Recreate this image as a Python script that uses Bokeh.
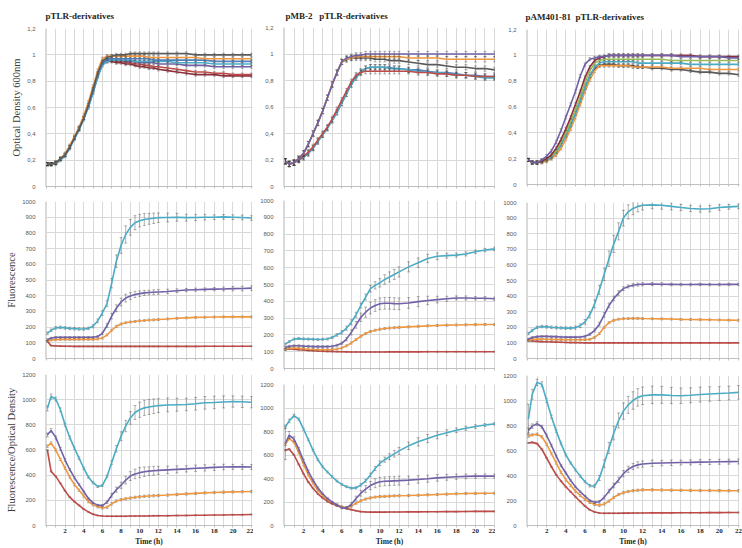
from bokeh.embed import file_html
from bokeh.layouts import column, row
from bokeh.models import FixedTicker, Range1d, Title
from bokeh.plotting import figure
from bokeh.resources import INLINE

# ---------------------------------------------------------------------------
# Sampling times (h)
# ---------------------------------------------------------------------------
T = [0.1, 0.5, 1.0, 1.5, 2.0, 2.5, 3.0, 3.5, 4.0, 4.5, 5.0, 5.5,
     6.0, 6.5, 7.0, 7.5, 8.0, 8.5, 9.0, 9.5, 10.0, 10.5, 11.0, 11.5, 12.0,
     13, 14, 15, 16, 17, 18, 19, 20, 21, 22]

HOUR_TICKS = list(range(0, 23))
HOUR_LABELS = ["", "", "2", "", "4", "", "6", "", "8", "", "10", "", "12", "",
               "14", "", "16", "", "18", "", "20", "", "22"]

OD_TICKS = [0, 0.2, 0.4, 0.6, 0.8, 1.0, 1.2]
OD_TICK_LABELS = ["0", "0,2", "0,4", "0,6", "0,8", "1", "1,2"]
F_TICKS = [0, 100, 200, 300, 400, 500, 600, 700, 800, 900, 1000]
F_TICK_LABELS = ["0", "100", "200", "300", "400", "500", "600", "700", "800", "900", "1000"]
R_TICKS = [0, 200, 400, 600, 800, 1000, 1200]
R_TICK_LABELS = ["0", "200", "400", "600", "800", "1000", "1200"]

# non-breaking spaces keep the wide gaps between the plasmid names
PANEL_TITLES = ["pTLR-derivatives",
                "pMB-2\u00a0\u00a0\u00a0pTLR-derivatives",
                "pAM401-81\u00a0\u00a0pTLR-derivatives"]
ROW_TITLES = ["Optical Density 600nm", "Fluorescence", "Fluorescence/Optical Density"]

# ---------------------------------------------------------------------------
# Optical density 600 nm
# ---------------------------------------------------------------------------
OD_A_GRAY = [0.17, 0.17, 0.18, 0.21, 0.24, 0.30, 0.37, 0.44, 0.52, 0.62, 0.74, 0.86,
             0.95, 0.98, 0.99, 1.00, 1.00, 1.00, 1.01, 1.01, 1.01, 1.01, 1.01, 1.01, 1.01,
             1.01, 1.01, 1.01, 1.00, 1.00, 1.00, 1.00, 1.00, 1.00, 1.00]
OD_A_ORANGE = [0.17, 0.17, 0.18, 0.21, 0.25, 0.31, 0.38, 0.45, 0.54, 0.64, 0.76, 0.88,
               0.97, 0.99, 0.99, 0.99, 0.99, 0.99, 0.99, 0.99, 0.99, 0.99, 0.98, 0.98, 0.98,
               0.98, 0.98, 0.98, 0.98, 0.97, 0.97, 0.97, 0.97, 0.97, 0.97]
OD_A_BLUE = [0.17, 0.17, 0.18, 0.21, 0.24, 0.30, 0.37, 0.44, 0.52, 0.62, 0.73, 0.85,
             0.94, 0.97, 0.97, 0.97, 0.97, 0.97, 0.97, 0.97, 0.97, 0.97, 0.97, 0.96, 0.96,
             0.96, 0.96, 0.96, 0.96, 0.96, 0.95, 0.95, 0.95, 0.95, 0.95]
OD_A_TEAL = [0.17, 0.17, 0.17, 0.20, 0.23, 0.29, 0.36, 0.43, 0.51, 0.60, 0.71, 0.83,
             0.92, 0.95, 0.96, 0.96, 0.96, 0.96, 0.96, 0.95, 0.95, 0.95, 0.95, 0.95, 0.95,
             0.95, 0.94, 0.94, 0.94, 0.94, 0.93, 0.93, 0.93, 0.93, 0.93]
OD_A_PURPLE = [0.17, 0.17, 0.18, 0.21, 0.24, 0.30, 0.37, 0.44, 0.52, 0.61, 0.72, 0.84,
               0.93, 0.96, 0.96, 0.96, 0.96, 0.95, 0.95, 0.95, 0.94, 0.94, 0.94, 0.94, 0.93,
               0.93, 0.93, 0.92, 0.92, 0.92, 0.91, 0.91, 0.91, 0.91, 0.91]
OD_A_RED = [0.17, 0.17, 0.18, 0.21, 0.24, 0.30, 0.37, 0.44, 0.52, 0.62, 0.73, 0.85,
            0.94, 0.96, 0.96, 0.95, 0.95, 0.94, 0.94, 0.93, 0.93, 0.92, 0.92, 0.91, 0.91,
            0.90, 0.89, 0.88, 0.87, 0.87, 0.86, 0.86, 0.85, 0.85, 0.85]
OD_A_DKRED = [0.17, 0.17, 0.18, 0.21, 0.24, 0.30, 0.37, 0.44, 0.52, 0.61, 0.72, 0.84,
              0.93, 0.95, 0.95, 0.94, 0.94, 0.93, 0.93, 0.92, 0.91, 0.91, 0.90, 0.90, 0.89,
              0.88, 0.87, 0.86, 0.85, 0.85, 0.85, 0.84, 0.84, 0.84, 0.84]

OD_B_PURPLE = [0.19, 0.17, 0.18, 0.21, 0.25, 0.32, 0.40, 0.48, 0.57, 0.67, 0.77, 0.86,
               0.94, 0.97, 0.98, 0.99, 0.99, 1.00, 1.00, 1.00, 1.00, 1.00, 1.00, 1.00, 1.00,
               1.00, 1.00, 1.00, 1.00, 1.00, 1.00, 1.00, 1.00, 1.00, 1.00]
OD_B_ORANGE = [0.19, 0.17, 0.18, 0.21, 0.25, 0.32, 0.40, 0.48, 0.57, 0.67, 0.77, 0.86,
               0.94, 0.96, 0.97, 0.98, 0.98, 0.98, 0.98, 0.98, 0.98, 0.98, 0.98, 0.98, 0.98,
               0.97, 0.97, 0.97, 0.97, 0.96, 0.96, 0.96, 0.96, 0.96, 0.96]
OD_B_GRAY = [0.19, 0.17, 0.18, 0.21, 0.25, 0.32, 0.40, 0.48, 0.57, 0.67, 0.77, 0.86,
             0.94, 0.96, 0.97, 0.97, 0.97, 0.97, 0.97, 0.96, 0.96, 0.96, 0.95, 0.95, 0.95,
             0.94, 0.93, 0.92, 0.92, 0.91, 0.90, 0.90, 0.89, 0.89, 0.88]
OD_B_RED = [0.19, 0.17, 0.18, 0.20, 0.23, 0.26, 0.30, 0.35, 0.40, 0.45, 0.51, 0.58,
            0.65, 0.72, 0.79, 0.84, 0.86, 0.87, 0.87, 0.87, 0.87, 0.87, 0.87, 0.87, 0.87,
            0.87, 0.86, 0.86, 0.85, 0.85, 0.84, 0.84, 0.83, 0.83, 0.83]
OD_B_TEAL = [0.19, 0.17, 0.18, 0.20, 0.22, 0.25, 0.29, 0.34, 0.39, 0.44, 0.50, 0.56,
             0.63, 0.70, 0.77, 0.82, 0.86, 0.89, 0.90, 0.90, 0.90, 0.90, 0.89, 0.89, 0.89,
             0.88, 0.87, 0.86, 0.86, 0.85, 0.84, 0.84, 0.83, 0.82, 0.82]
OD_B_BLUE = [0.19, 0.17, 0.18, 0.20, 0.22, 0.25, 0.29, 0.34, 0.39, 0.44, 0.50, 0.56,
             0.63, 0.70, 0.77, 0.83, 0.87, 0.89, 0.90, 0.90, 0.90, 0.90, 0.90, 0.89, 0.89,
             0.88, 0.88, 0.87, 0.86, 0.86, 0.85, 0.84, 0.84, 0.83, 0.83]

OD_C_PURPLE = [0.19, 0.17, 0.17, 0.19, 0.22, 0.26, 0.33, 0.42, 0.52, 0.62, 0.72, 0.84,
               0.93, 0.97, 0.98, 0.99, 0.99, 1.00, 1.00, 1.00, 1.00, 1.00, 1.00, 1.00, 1.00,
               1.00, 1.00, 1.00, 0.99, 0.99, 0.99, 0.99, 0.99, 0.98, 0.98]
OD_C_RED = [0.19, 0.17, 0.17, 0.18, 0.20, 0.23, 0.28, 0.35, 0.43, 0.52, 0.62, 0.72,
            0.83, 0.91, 0.96, 0.98, 0.99, 1.00, 1.00, 1.00, 1.00, 1.00, 1.00, 1.00, 1.00,
            1.00, 1.00, 1.00, 1.00, 1.00, 0.99, 0.99, 0.99, 0.99, 0.99]
OD_C_GREEN = [0.19, 0.17, 0.17, 0.18, 0.20, 0.22, 0.26, 0.33, 0.40, 0.49, 0.58, 0.68,
              0.79, 0.88, 0.94, 0.96, 0.97, 0.97, 0.97, 0.97, 0.97, 0.97, 0.97, 0.97, 0.97,
              0.97, 0.97, 0.96, 0.96, 0.96, 0.96, 0.96, 0.96, 0.96, 0.96]
OD_C_TEAL = [0.19, 0.17, 0.17, 0.18, 0.19, 0.21, 0.25, 0.31, 0.38, 0.46, 0.55, 0.65,
             0.75, 0.84, 0.91, 0.94, 0.95, 0.95, 0.95, 0.95, 0.95, 0.95, 0.95, 0.94, 0.94,
             0.94, 0.94, 0.94, 0.94, 0.93, 0.93, 0.93, 0.93, 0.93, 0.93]
OD_C_ORANGE = [0.19, 0.17, 0.17, 0.17, 0.18, 0.20, 0.23, 0.28, 0.35, 0.43, 0.52, 0.62,
               0.72, 0.81, 0.88, 0.92, 0.92, 0.92, 0.92, 0.92, 0.92, 0.92, 0.91, 0.91, 0.91,
               0.91, 0.91, 0.90, 0.90, 0.90, 0.90, 0.89, 0.89, 0.89, 0.89]
OD_C_GRAY = [0.19, 0.17, 0.17, 0.18, 0.19, 0.21, 0.25, 0.31, 0.38, 0.46, 0.55, 0.65,
             0.75, 0.84, 0.90, 0.92, 0.93, 0.93, 0.93, 0.92, 0.92, 0.92, 0.92, 0.91, 0.91,
             0.90, 0.90, 0.89, 0.89, 0.88, 0.87, 0.87, 0.86, 0.86, 0.85]

OD_SD = [0.012, 0.02, 0.012]   # per construct group (columns)

# ---------------------------------------------------------------------------
# Fluorescence
# ---------------------------------------------------------------------------
F_A_TEAL = [160, 180, 195, 198, 195, 192, 190, 188, 188, 192, 205, 240,
            290, 350, 480, 620, 720, 790, 835, 865, 878, 885, 890, 893, 897,
            898, 900, 897, 898, 900, 900, 902, 900, 898, 895]
F_A_PURPLE = [120, 130, 135, 135, 135, 135, 135, 135, 135, 135, 135, 140,
              160, 210, 270, 320, 360, 385, 398, 408, 413, 418, 420, 422, 424,
              427, 432, 436, 438, 440, 442, 443, 445, 446, 448]
F_A_ORANGE = [110, 118, 120, 122, 122, 122, 122, 122, 122, 122, 122, 124,
              130, 150, 180, 205, 220, 228, 233, 236, 240, 242, 245, 246, 248,
              252, 256, 259, 262, 263, 264, 265, 265, 265, 265]
F_A_RED = [110, 82, 80, 79, 78, 78, 77, 77, 77, 77, 77, 77,
           77, 77, 77, 77, 77, 77, 77, 77, 77, 77, 77, 77, 77,
           77, 77, 77, 77, 78, 78, 78, 78, 78, 78]
F_A_TEAL_SD = [8, 8, 8, 8, 8, 8, 8, 8, 8, 8, 10, 12,
               15, 20, 30, 40, 50, 55, 50, 45, 40, 38, 35, 33, 30,
               28, 25, 22, 20, 18, 15, 15, 15, 15, 15]
F_A_PURPLE_SD = [5, 5, 5, 5, 5, 5, 5, 5, 5, 5, 5, 6,
                 8, 12, 18, 22, 25, 25, 22, 20, 18, 16, 15, 15, 15,
                 14, 12, 10, 10, 10, 10, 12, 14, 15, 15]

F_B_TEAL = [145, 160, 175, 178, 176, 175, 174, 173, 174, 176, 185, 200,
            215, 240, 275, 320, 375, 425, 475, 495, 510, 530, 545, 560, 575,
            605, 630, 655, 668, 672, 675, 682, 695, 705, 712]
F_B_PURPLE = [125, 132, 135, 135, 133, 132, 130, 130, 130, 130, 132, 138,
              150, 175, 215, 260, 305, 335, 360, 375, 385, 388, 388, 386, 385,
              390, 398, 405, 410, 415, 420, 420, 418, 418, 415]
F_B_ORANGE = [115, 120, 122, 120, 118, 115, 113, 112, 112, 112, 113, 116,
              122, 135, 152, 172, 192, 208, 220, 228, 234, 238, 241, 243, 245,
              248, 251, 254, 256, 258, 259, 260, 261, 262, 262]
F_B_RED = [112, 118, 115, 112, 110, 108, 106, 104, 103, 102, 101, 100,
           100, 99, 98, 98, 98, 98, 98, 98, 98, 98, 99, 99, 99,
           99, 99, 100, 100, 100, 100, 100, 100, 100, 100]
F_B_TEAL_SD = [6, 6, 6, 6, 6, 6, 6, 6, 6, 6, 6, 8,
               10, 12, 15, 15, 15, 18, 20, 22, 25, 28, 30, 30, 30,
               30, 28, 25, 20, 15, 12, 12, 10, 10, 10]
F_B_PURPLE_SD = [6, 6, 6, 6, 6, 6, 6, 6, 6, 6, 6, 6,
                 8, 10, 15, 20, 25, 30, 35, 35, 35, 35, 35, 35, 35,
                 32, 30, 25, 20, 15, 12, 12, 10, 10, 10]

F_C_TEAL = [160, 180, 200, 205, 203, 200, 198, 196, 195, 195, 198, 210,
            235, 280, 350, 440, 540, 640, 735, 815, 900, 940, 962, 975, 982,
            985, 982, 975, 968, 962, 958, 960, 968, 972, 975]
F_C_PURPLE = [125, 135, 140, 142, 142, 140, 140, 138, 137, 137, 137, 138,
              142, 155, 180, 220, 280, 340, 385, 420, 448, 462, 470, 474, 476,
              477, 476, 475, 474, 474, 475, 474, 474, 475, 475]
F_C_ORANGE = [115, 122, 125, 124, 123, 122, 122, 121, 120, 120, 120, 120,
              121, 123, 135, 160, 200, 230, 245, 252, 255, 256, 257, 257, 256,
              255, 254, 253, 251, 250, 249, 248, 247, 246, 245]
F_C_RED = [115, 112, 110, 108, 107, 106, 105, 104, 103, 102, 102, 101,
           100, 100, 100, 100, 100, 100, 100, 100, 100, 100, 100, 100, 100,
           100, 100, 100, 100, 100, 100, 100, 100, 100, 100]
F_C_TEAL_SD = [8, 8, 8, 8, 8, 8, 8, 8, 8, 8, 10, 12,
               15, 20, 25, 30, 40, 50, 55, 55, 50, 45, 40, 35, 30,
               25, 25, 22, 20, 20, 20, 20, 18, 15, 15]
F_C_PURPLE_SD = [5, 5, 5, 5, 5, 5, 5, 5, 5, 5, 5, 5,
                 6, 8, 10, 12, 15, 15, 15, 15, 12, 10, 10, 10, 10,
                 10, 10, 8, 8, 8, 8, 8, 8, 8, 8]

F_ORANGE_SD = 6
F_RED_SD = 3

# ---------------------------------------------------------------------------
# Fluorescence / optical density
# ---------------------------------------------------------------------------
R_A_TEAL = [930, 1025, 1005, 920, 800, 700, 615, 535, 455, 385, 340, 310,
            318, 390, 500, 610, 710, 790, 855, 898, 920, 935, 942, 948, 953,
            958, 960, 962, 968, 975, 978, 982, 985, 983, 980]
R_A_PURPLE = [720, 755, 700, 610, 520, 445, 380, 325, 270, 215, 180, 162,
              158, 185, 240, 285, 320, 360, 393, 410, 420, 427, 432, 435, 438,
              442, 446, 450, 455, 458, 462, 465, 466, 466, 465]
R_A_ORANGE = [630, 655, 600, 525, 455, 385, 325, 280, 235, 190, 165, 148,
              140, 145, 172, 195, 205, 212, 218, 224, 228, 232, 234, 236, 238,
              242, 247, 251, 255, 259, 262, 265, 267, 268, 270]
R_A_RED = [600, 430, 390, 335, 275, 225, 190, 160, 130, 108, 90, 80,
           76, 74, 74, 74, 74, 74, 75, 75, 75, 76, 76, 77, 77,
           78, 79, 80, 81, 82, 83, 84, 85, 86, 88]
R_A_TEAL_SD = [20, 20, 15, 15, 12, 12, 10, 10, 10, 8, 8, 8,
               8, 10, 15, 25, 35, 45, 50, 55, 60, 60, 60, 58, 55,
               55, 52, 50, 50, 50, 50, 48, 45, 45, 45]
R_A_PURPLE_SD = [15, 15, 12, 10, 10, 8, 8, 8, 6, 6, 6, 6,
                 8, 10, 15, 20, 25, 30, 35, 38, 40, 38, 35, 35, 32,
                 30, 28, 25, 25, 25, 25, 22, 20, 20, 20]

R_B_TEAL = [840, 890, 935, 905, 820, 730, 640, 560, 500, 455, 415, 378,
            350, 330, 318, 320, 345, 380, 430, 485, 530, 560, 585, 610, 635,
            678, 712, 740, 768, 790, 810, 828, 842, 855, 865]
R_B_PURPLE = [700, 770, 735, 650, 550, 460, 385, 320, 270, 230, 198, 175,
              150, 150, 180, 230, 275, 310, 340, 360, 372, 376, 378, 380, 382,
              386, 392, 398, 405, 410, 415, 418, 420, 421, 420]
R_B_ORANGE = [690, 740, 710, 620, 520, 430, 360, 300, 255, 220, 195, 175,
              160, 152, 165, 190, 210, 225, 235, 242, 246, 248, 250, 252, 253,
              255, 258, 261, 264, 267, 270, 272, 273, 274, 275]
R_B_RED = [640, 650, 600, 520, 440, 370, 315, 270, 235, 205, 185, 168,
           155, 145, 135, 125, 118, 115, 114, 114, 114, 114, 115, 115, 115,
           116, 116, 117, 117, 118, 118, 119, 120, 120, 120]
R_B_TEAL_SD = [15, 15, 12, 10, 10, 8, 8, 8, 8, 8, 8, 8,
               8, 8, 8, 10, 10, 12, 15, 18, 20, 22, 25, 28, 30,
               32, 35, 35, 30, 25, 20, 18, 15, 12, 10]
R_B_PURPLE_SD = [140, 30, 20, 15, 12, 10, 8, 8, 6, 6, 6, 6,
                 8, 10, 15, 20, 25, 30, 35, 38, 38, 38, 38, 38, 38,
                 35, 32, 30, 28, 25, 22, 20, 18, 18, 18]

R_C_TEAL = [850, 1050, 1145, 1130, 1000, 870, 755, 655, 565, 500, 445, 395,
            350, 318, 315, 380, 495, 620, 740, 840, 915, 965, 1000, 1025, 1038,
            1045, 1045, 1040, 1038, 1042, 1048, 1052, 1056, 1060, 1065]
R_C_PURPLE = [760, 795, 815, 790, 720, 640, 555, 480, 420, 360, 310, 270,
              235, 200, 185, 190, 225, 275, 320, 365, 415, 450, 472, 485, 492,
              498, 500, 502, 504, 505, 507, 508, 510, 511, 512]
R_C_ORANGE = [715, 725, 730, 710, 650, 575, 500, 425, 365, 320, 275, 240,
              208, 185, 168, 162, 172, 195, 225, 248, 262, 272, 278, 282, 285,
              285, 284, 283, 282, 281, 280, 280, 279, 278, 278]
R_C_RED = [660, 665, 655, 610, 540, 470, 405, 355, 310, 270, 230, 192,
           155, 125, 108, 100, 98, 98, 98, 98, 99, 99, 100, 100, 100,
           101, 101, 101, 102, 102, 102, 103, 103, 104, 104]
R_C_TEAL_SD = [120, 40, 25, 20, 15, 12, 10, 10, 8, 8, 8, 8,
               8, 10, 12, 20, 30, 45, 55, 60, 65, 68, 70, 70, 70,
               70, 68, 65, 62, 60, 60, 58, 55, 55, 55]
R_C_PURPLE_SD = [20, 18, 15, 12, 10, 10, 8, 8, 8, 6, 6, 6,
                 6, 6, 8, 10, 12, 15, 18, 22, 25, 25, 25, 25, 25,
                 25, 22, 22, 20, 20, 20, 20, 20, 20, 20]

R_ORANGE_SD = 9
R_RED_SD = 4

COLORS = {
    "teal": "#4BACC6", "purple": "#7261A8", "orange": "#F0983F", "red": "#BE4B48",
    "gray": "#5A5A5A", "blue": "#4F81BD", "dkred": "#8E2F3C", "green": "#9BBB59",
}
GRID = "#d9d9d9"
BAR = "#3a3a3a"

# figure geometry per column: (width, left, right) and per row: (height, top, bottom)
COL_W = [(253, 40, 1), (242, 30, 0), (247, 31, 3)]
ROW_H = [
    [(190, 28, 4), (172, 11, 4), (186, 12, 19)],
    [(190, 27, 4), (182, 10, 4), (176, 12, 19)],
    [(190, 29, 6), (172, 12, 4), (186, 13, 19)],
]
TITLE_OFFSET = [0, 2, -1]
TITLE_STANDOFF = [15, 14, 16]
ROW_TITLE_OFFSET = [-26, -17, -6]


def make_panel(ci, ri, ticks, tick_labels, y_max):
    w, left, right = COL_W[ci]
    h, top, bottom = ROW_H[ci][ri]
    p = figure(width=w, height=h, x_range=Range1d(-0.1, 22.1), y_range=Range1d(0, y_max),
               output_backend="svg", toolbar_location=None,
               min_border_left=left, min_border_right=right,
               min_border_top=top, min_border_bottom=bottom)
    p.outline_line_color = None
    p.background_fill_color = "white"
    p.border_fill_color = "white"

    xa = p.xaxis[0]
    xa.ticker = FixedTicker(ticks=HOUR_TICKS)
    xa.axis_line_color = "#bfbfbf"
    xa.major_tick_line_color = "#bfbfbf"
    xa.major_tick_in = 0
    xa.major_tick_out = 2
    xa.minor_tick_line_color = None
    if ri == 2:
        xa.major_label_overrides = {t: s for t, s in zip(HOUR_TICKS, HOUR_LABELS)}
        xa.major_label_text_font = "Liberation Serif"
        xa.major_label_text_font_style = "bold"
        xa.major_label_text_font_size = "7px"
        xa.major_label_text_color = "#262626"
        xa.major_label_standoff = 1
        xa.axis_label = "Time (h)"
        xa.axis_label_text_font = "Liberation Serif"
        xa.axis_label_text_font_style = "bold"
        xa.axis_label_text_font_size = "7.5px"
        xa.axis_label_text_color = "#262626"
        xa.axis_label_standoff = 1
    else:
        xa.major_label_overrides = {t: "" for t in HOUR_TICKS}
        xa.major_label_text_font_size = "0px"
        xa.major_label_standoff = 0

    ya = p.yaxis[0]
    ya.ticker = FixedTicker(ticks=ticks)
    ya.major_label_overrides = {t: s for t, s in zip(ticks, tick_labels)}
    ya.major_label_text_font = "Liberation Sans"
    ya.major_label_text_font_size = "6px"
    ya.major_label_text_color = "#595959"
    ya.major_label_standoff = 4
    ya.axis_line_color = GRID
    ya.major_tick_line_color = None
    ya.minor_tick_line_color = None

    p.xgrid.grid_line_color = GRID
    p.ygrid.grid_line_color = GRID
    p.xgrid.ticker = FixedTicker(ticks=HOUR_TICKS)
    p.ygrid.ticker = FixedTicker(ticks=ticks)

    if ri == 0:
        p.title.text = PANEL_TITLES[ci]
        p.title.align = "left"
        p.title.offset = TITLE_OFFSET[ci]
        p.title.standoff = TITLE_STANDOFF[ci]
        p.title.text_font = "Liberation Serif"
        p.title.text_font_style = "bold"
        p.title.text_font_size = "9px"
        p.title.text_color = "#262626"
    if ci == 0:
        p.add_layout(Title(text=ROW_TITLES[ri], align="center", offset=ROW_TITLE_OFFSET[ri],
                           standoff=6, text_font="Liberation Serif", text_font_style="normal",
                           text_font_size="10.5px", text_color="#3a3a3a"), "left")
    return p


def add_series(p, values, sd, color, cap):
    sds = sd if isinstance(sd, list) else [sd] * len(values)
    lo = [v - s for v, s in zip(values, sds)]
    hi = [v + s for v, s in zip(values, sds)]
    xl = [t - cap for t in T]
    xr = [t + cap for t in T]
    kw = dict(line_color=BAR, line_width=0.6, line_alpha=0.65)
    p.segment(x0=T, y0=lo, x1=T, y1=hi, **kw)
    p.segment(x0=xl, y0=hi, x1=xr, y1=hi, **kw)
    p.segment(x0=xl, y0=lo, x1=xr, y1=lo, **kw)
    p.line(T, values, line_color=COLORS[color], line_width=1.6)


OD_SERIES = [
    [(OD_A_DKRED, "dkred"), (OD_A_RED, "red"), (OD_A_PURPLE, "purple"), (OD_A_TEAL, "teal"),
     (OD_A_BLUE, "blue"), (OD_A_ORANGE, "orange"), (OD_A_GRAY, "gray")],
    [(OD_B_BLUE, "blue"), (OD_B_TEAL, "teal"), (OD_B_RED, "red"), (OD_B_GRAY, "gray"),
     (OD_B_ORANGE, "orange"), (OD_B_PURPLE, "purple")],
    [(OD_C_GRAY, "gray"), (OD_C_ORANGE, "orange"), (OD_C_TEAL, "teal"), (OD_C_GREEN, "green"),
     (OD_C_RED, "dkred"), (OD_C_PURPLE, "purple")],
]
F_SERIES = [
    [(F_A_RED, F_RED_SD, "red"), (F_A_ORANGE, F_ORANGE_SD, "orange"),
     (F_A_PURPLE, F_A_PURPLE_SD, "purple"), (F_A_TEAL, F_A_TEAL_SD, "teal")],
    [(F_B_RED, F_RED_SD, "red"), (F_B_ORANGE, F_ORANGE_SD, "orange"),
     (F_B_PURPLE, F_B_PURPLE_SD, "purple"), (F_B_TEAL, F_B_TEAL_SD, "teal")],
    [(F_C_RED, F_RED_SD, "red"), (F_C_ORANGE, F_ORANGE_SD, "orange"),
     (F_C_PURPLE, F_C_PURPLE_SD, "purple"), (F_C_TEAL, F_C_TEAL_SD, "teal")],
]
R_SERIES = [
    [(R_A_RED, R_RED_SD, "red"), (R_A_ORANGE, R_ORANGE_SD, "orange"),
     (R_A_PURPLE, R_A_PURPLE_SD, "purple"), (R_A_TEAL, R_A_TEAL_SD, "teal")],
    [(R_B_RED, R_RED_SD, "red"), (R_B_ORANGE, R_ORANGE_SD, "orange"),
     (R_B_PURPLE, R_B_PURPLE_SD, "purple"), (R_B_TEAL, R_B_TEAL_SD, "teal")],
    [(R_C_RED, R_RED_SD, "red"), (R_C_ORANGE, R_ORANGE_SD, "orange"),
     (R_C_PURPLE, R_C_PURPLE_SD, "purple"), (R_C_TEAL, R_C_TEAL_SD, "teal")],
]

columns = []
for ci in range(3):
    p_od = make_panel(ci, 0, OD_TICKS, OD_TICK_LABELS, 1.2)
    for vals, col in OD_SERIES[ci]:
        add_series(p_od, vals, OD_SD[ci], col, 0.15)
    p_f = make_panel(ci, 1, F_TICKS, F_TICK_LABELS, 1000)
    for vals, sd, col in F_SERIES[ci]:
        add_series(p_f, vals, sd, col, 0.15)
    p_r = make_panel(ci, 2, R_TICKS, R_TICK_LABELS, 1200)
    for vals, sd, col in R_SERIES[ci]:
        add_series(p_r, vals, sd, col, 0.15)
    columns.append(column(p_od, p_f, p_r, spacing=0))

layout = row(*columns, spacing=0)

with open("out.html", "w") as fh:
    fh.write(file_html(layout, INLINE, title="Growth and fluorescence"))
